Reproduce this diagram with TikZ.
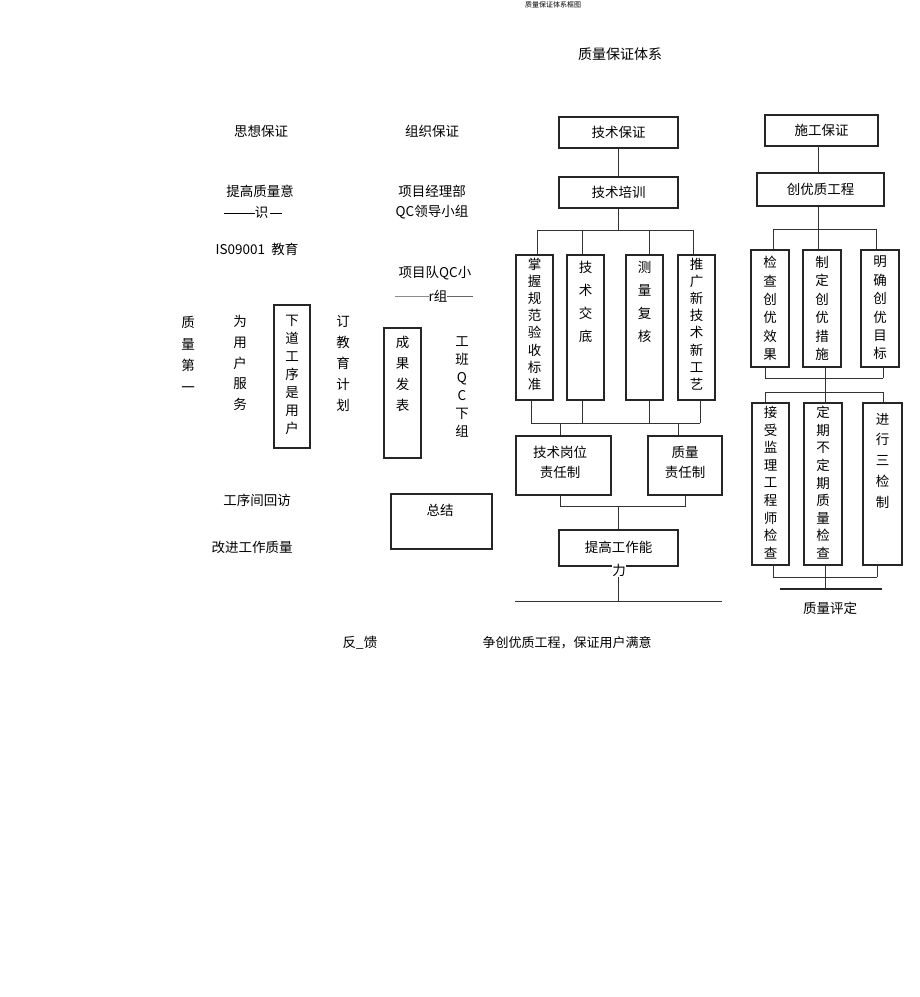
\documentclass[tikz,border=0pt]{standalone}
\usepackage{fontspec}
\setmainfont{Noto Sans CJK SC}
\newcommand{\myvf}[1]{\fontsize{13.5}{#1}\selectfont}
\newcommand{\mydash}[2]{\raisebox{4.5pt}{\textcolor{#2}{\rule{#1}{0.6pt}}}}
\begin{document}
\begin{tikzpicture}[x=1pt,y=-1pt,
 box/.style={draw=black!85, line width=1.1pt, inner sep=0, font=\fontsize{13.5}{20}\selectfont, align=center},
 ln/.style={draw=black!80, line width=0.8pt},
 t/.style={inner sep=0, font=\fontsize{13.5}{13.5}\selectfont},
 vt/.style={inner sep=0, anchor=north, align=center}]
\useasboundingbox (0,0) rectangle (920,997);
\fill[white] (0,0) rectangle (920,997);

% headers
\node[inner sep=0, font=\fontsize{7}{7}\selectfont] (hdr) at (553,5) {质量保证体系框图};
\node[inner sep=0, font=\fontsize{14}{14}\selectfont] (title) at (620,54) {质量保证体系};

% left column texts
\node[t] (sxbz) at (261,131) {思想保证};
\node[t] (zzbz) at (432,131) {组织保证};
\node[t] (tgzl) at (260,191) {提高质量意};
\node[t] (shi) at (253,213) {\mydash{31pt}{black}识\hspace{2pt}\mydash{12pt}{black}};
\node[t] (iso) at (257,249) {IS09001\ \ 教育};
\node[t] (xmjl) at (432,191) {项目经理部};
\node[t] (qcld) at (432,212) {QC领导小组};
\node[t] (xmd) at (435,273) {项目队QC小};
\node[t] (rz) at (434,296) {\mydash{34pt}{black!45}r组\mydash{26pt}{black!60}};

\node[vt, font=\myvf{21.7}] (zldy) at (188,316) {质\\量\\第\\一};
\node[vt, font=\myvf{20.8}] (wyh) at (240,315) {为\\用\\户\\服\\务};
\node[box, minimum width=36pt, minimum height=143pt] (xdgx) at (292,376.5) {};
\node[vt, font=\myvf{18}] (xdgxt) at (292,315) {下\\道\\工\\序\\是\\用\\户};
\node[vt, font=\myvf{21}] (djy) at (343,315) {订\\教\\育\\计\\划};
\node[box, minimum width=37pt, minimum height=130pt] (cgfb) at (402.5,393) {};
\node[vt, font=\myvf{21}] (cgfbt) at (402.5,336) {成\\果\\发\\表};
\node[vt, font=\myvf{18}] (gbqc) at (462,336) {工\\班\\Q\\C\\下\\组};
\node[t] (gxj) at (257,500) {工序间回访};
\node[t] (gjgz) at (252,547) {改进工作质量};
\node[box, minimum width=101pt, minimum height=55pt] (zj) at (441.5,521.5) {};
\node[t] (zjt) at (440,510) {总结};

% technical column
\node[box, minimum width=119pt, minimum height=31pt] (jsbz) at (618.5,132.5) {技术保证};
\node[box, minimum width=119pt, minimum height=31pt] (jspx) at (618.5,192.5) {技术培训};
\draw[ln] (jsbz.south) -- (jspx.north);
\coordinate (jm) at (618.5,230);
\coordinate (ja) at (537,230);
\coordinate (jb) at (582,230);
\coordinate (jc) at (649,230);
\coordinate (jd) at (693,230);
\draw[ln] (jspx.south) -- (jm);
\draw[ln] (ja) -- (jd);
\node[box, minimum width=37pt, minimum height=145pt] (b1) at (534.5,327.5) {};
\node[box, minimum width=37pt, minimum height=145pt] (b2) at (585.5,327.5) {};
\node[box, minimum width=37pt, minimum height=145pt] (b3) at (644.5,327.5) {};
\node[box, minimum width=37pt, minimum height=145pt] (b4) at (696.5,327.5) {};
\draw[ln] (ja) -- (ja |- b1.north);
\draw[ln] (jb) -- (jb |- b2.north);
\draw[ln] (jc) -- (jc |- b3.north);
\draw[ln] (jd) -- (jd |- b4.north);
\node[vt, font=\myvf{17.1}] (b1t) at (534.5,258) {掌\\握\\规\\范\\验\\收\\标\\准};
\node[vt, font=\myvf{23}] (b2t) at (585.5,261) {技\\术\\交\\底};
\node[vt, font=\myvf{23}] (b3t) at (644.5,261) {测\\量\\复\\核};
\node[vt, font=\myvf{17.1}] (b4t) at (696.5,258) {推\\广\\新\\技\\术\\新\\工\\艺};

\coordinate (ka) at (531,423);
\coordinate (kb) at (582,423);
\coordinate (kc) at (649,423);
\coordinate (kd) at (700,423);
\coordinate (ke) at (560,423);
\coordinate (kf) at (678,423);
\draw[ln] (ka |- b1.south) -- (ka);
\draw[ln] (kb |- b2.south) -- (kb);
\draw[ln] (kc |- b3.south) -- (kc);
\draw[ln] (kd |- b4.south) -- (kd);
\draw[ln] (ka) -- (kd);
\node[box, minimum width=95pt, minimum height=59pt] (gwz) at (563.5,465.5) {};
\node[t, align=center, font=\fontsize{13.5}{20}\selectfont] (gwzt) at (560,462) {技术岗位\\责任制};
\node[box, minimum width=74pt, minimum height=59pt] (zlz) at (685,465.5) {};
\node[t, align=center, font=\fontsize{13.5}{20}\selectfont] (zlzt) at (685,462) {质量\\责任制};
\draw[ln] (ke) -- (ke |- gwz.north);
\draw[ln] (kf) -- (kf |- zlz.north);
\coordinate (la) at (560,506);
\coordinate (lb) at (685,506);
\coordinate (lm) at (618.5,506);
\draw[ln] (la |- gwz.south) -- (la) -- (lb) -- (lb |- zlz.south);
\node[box, minimum width=119pt, minimum height=36pt] (tggz) at (618.5,548) {};
\node[t] (tggzt) at (618.5,547) {提高工作能};
\draw[ln] (lm) -- (tggz.north);
\coordinate (ma) at (515,601);
\coordinate (mb) at (722,601);
\coordinate (mm) at (618.5,601);
\draw[ln] (tggz.south) -- (mm);
\draw[ln] (ma) -- (mb);
\node[t, fill=white, inner sep=0.5pt] (li) at (619,570) {力};

% construction column
\node[box, minimum width=113pt, minimum height=31pt] (sgbz) at (821.5,130.5) {施工保证};
\node[box, minimum width=127pt, minimum height=33pt] (cyzg) at (820.5,189.5) {创优质工程};
\coordinate (sgm) at (818,146);
\draw[ln] (sgm) -- (sgm |- cyzg.north);
\coordinate (na) at (773,229);
\coordinate (nb) at (818,229);
\coordinate (nc) at (876,229);
\draw[ln] (nb |- cyzg.south) -- (nb);
\draw[ln] (na) -- (nc);
\node[box, minimum width=38pt, minimum height=117pt] (r1) at (770,308.5) {};
\node[box, minimum width=38pt, minimum height=117pt] (r2) at (822,308.5) {};
\node[box, minimum width=38pt, minimum height=117pt] (r3) at (880,308.5) {};
\draw[ln] (na) -- (na |- r1.north);
\draw[ln] (nb) -- (nb |- r2.north);
\draw[ln] (nc) -- (nc |- r3.north);
\node[vt, font=\myvf{18.4}] (r1t) at (770,256) {检\\查\\创\\优\\效\\果};
\node[vt, font=\myvf{18.4}] (r2t) at (822,256) {制\\定\\创\\优\\措\\施};
\node[vt, font=\myvf{18.4}] (r3t) at (880,256) {明\\确\\创\\优\\目\\标};

\coordinate (oa) at (765,378);
\coordinate (ob) at (825,378);
\coordinate (oc) at (883,378);
\coordinate (pa) at (765,392);
\coordinate (pb) at (825,392);
\coordinate (pc) at (883,392);
\draw[ln] (oa |- r1.south) -- (oa);
\draw[ln] (ob |- r2.south) -- (ob);
\draw[ln] (oc |- r3.south) -- (oc);
\draw[ln] (oa) -- (oc);
\draw[ln] (pa) -- (pc);
\node[box, minimum width=37pt, minimum height=162pt] (s1) at (770.5,484) {};
\node[box, minimum width=38pt, minimum height=162pt] (s2) at (823,484) {};
\node[box, minimum width=39pt, minimum height=162pt] (s3) at (882.5,484) {};
\draw[ln] (ob) -- (ob |- s2.north);
\draw[ln] (pa) -- (pa |- s1.north);
\draw[ln] (pc) -- (pc |- s3.north);
\node[vt, font=\myvf{17.6}] (s1t) at (770.5,406) {接\\受\\监\\理\\工\\程\\师\\检\\查};
\node[vt, font=\myvf{17.6}] (s2t) at (823,406) {定\\期\\不\\定\\期\\质\\量\\检\\查};
\node[vt, font=\myvf{20.7}] (s3t) at (882.5,413) {进\\行\\三\\检\\制};

\coordinate (qa) at (773,577);
\coordinate (qb) at (825,577);
\coordinate (qc) at (877,577);
\coordinate (qm) at (825,589);
\coordinate (ra) at (780,589);
\coordinate (rb) at (882,589);
\draw[ln] (qa |- s1.south) -- (qa);
\draw[ln] (qb |- s2.south) -- (qb);
\draw[ln] (qc |- s3.south) -- (qc);
\draw[ln] (qa) -- (qc);
\draw[ln] (qb) -- (qm);
\draw[draw=black!85, line width=1.8pt] (ra) -- (rb);
\node[t] (zlpd) at (830,608) {质量评定};

% bottom texts
\node[t] (fk) at (360,643) {反\_馈};
\node[t, font=\fontsize{13}{13}\selectfont] (zcyz) at (567,643) {争创优质工程，保证用户满意};
\end{tikzpicture}
\end{document}
